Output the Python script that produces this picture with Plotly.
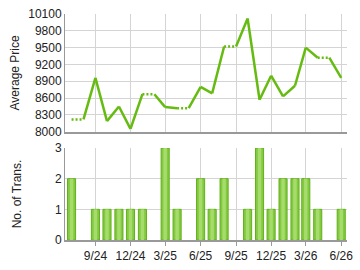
import plotly.graph_objects as go
from plotly.subplots import make_subplots

months = ["2024-07-01", "2024-08-01", "2024-09-01", "2024-10-01", "2024-11-01", "2024-12-01",
          "2025-01-01", "2025-02-01", "2025-03-01", "2025-04-01", "2025-05-01", "2025-06-01",
          "2025-07-01", "2025-08-01", "2025-09-01", "2025-10-01", "2025-11-01", "2025-12-01",
          "2026-01-01", "2026-02-01", "2026-03-01", "2026-04-01", "2026-05-01", "2026-06-01"]
avg_price = [8220, None, 8960, 8190, 8450, 8050,
             8670, None, 8440, 8420, None, 8800,
             8685, 9520, None, 10020, 8570, 9000,
             8630, 8820, 9500, 9320, None, 8960]
transactions = [2, 0, 1, 1, 1, 1,
                1, 0, 3, 1, 0, 2,
                1, 2, 0, 1, 3, 1,
                2, 2, 2, 1, 0, 1]
tick_vals = ["2024-09-01", "2024-12-01", "2025-03-01", "2025-06-01",
             "2025-09-01", "2025-12-01", "2026-03-01", "2026-06-01"]
tick_text = ["9/24", "12/24", "3/25", "6/25", "9/25", "12/25", "3/26", "6/26"]
price_ticks = [8000, 8300, 8600, 8900, 9200, 9500, 9800, 10100]
count_ticks = [0, 1, 2, 3]

# carry forward value for months with no transactions (drawn dotted)
filled = []
last = None
for v in avg_price:
    if v is not None:
        last = v
    filled.append(last)

solid_x, solid_y, dot_x, dot_y = [], [], [], []
for i in range(len(months) - 1):
    if avg_price[i + 1] is None:
        dot_x += [months[i], months[i + 1], None]
        dot_y += [filled[i], filled[i + 1], None]
    else:
        solid_x += [months[i], months[i + 1], None]
        solid_y += [filled[i], filled[i + 1], None]

bar_x = [m for m, c in zip(months, transactions) if c > 0]
bar_y = [c for c in transactions if c > 0]

LINE = "#66BB11"
DAY = 86400000
fig = make_subplots(rows=2, cols=1, shared_xaxes=True)
fig.add_trace(go.Scatter(x=solid_x, y=solid_y, mode="lines",
                         line=dict(color=LINE, width=2.5), connectgaps=False,
                         hoverinfo="skip"), row=1, col=1)
fig.add_trace(go.Scatter(x=dot_x, y=dot_y, mode="lines",
                         line=dict(color=LINE, width=2.5, dash="2px,2px"), connectgaps=False,
                         hoverinfo="skip"), row=1, col=1)
fig.add_trace(go.Bar(x=bar_x, y=bar_y, width=21 * DAY,
                     marker=dict(color="#84C942", line=dict(color="#62B01A", width=1))),
              row=2, col=1)
fig.add_trace(go.Bar(x=bar_x, y=bar_y, width=9 * DAY,
                     marker=dict(color="#A6DC6C", line=dict(width=0))),
              row=2, col=1)

xrange = ["2024-06-14", "2026-06-16"]
grid = "#D4D4D4"
axis_font = dict(family="Liberation Sans, Arial, sans-serif", size=12, color="#222")
fig.update_xaxes(range=xrange, tickvals=tick_vals, ticktext=tick_text, showgrid=True,
                 gridcolor=grid, gridwidth=1, showline=True, linecolor="#999", linewidth=2,
                 zeroline=False, tickfont=axis_font)
fig.update_xaxes(showticklabels=False, ticks="", row=1, col=1)
fig.update_xaxes(ticks="outside", ticklen=4, tickcolor="#999", row=2, col=1)
fig.update_yaxes(range=[8000, 10100], tickvals=price_ticks,
                 ticktext=[str(t) for t in price_ticks], showgrid=True, gridcolor=grid,
                 showline=True, linecolor="#999", linewidth=1, zeroline=False,
                 tickfont=axis_font, title=dict(text="Average Price", font=axis_font, standoff=6),
                 row=1, col=1)
fig.update_yaxes(range=[0, 3], tickvals=count_ticks, showgrid=True, gridcolor=grid,
                 showline=True, linecolor="#999", linewidth=1, zeroline=False,
                 tickfont=axis_font, title=dict(text="No. of Trans.", font=axis_font, standoff=30),
                 row=2, col=1)
fig.update_layout(
    width=360, height=270, margin=dict(l=65, r=7, t=7, b=27),
    paper_bgcolor="white", plot_bgcolor="white", showlegend=False,
    font=axis_font, barmode="overlay",
    yaxis=dict(domain=[0.479, 1.0]),
    yaxis2=dict(domain=[0.0, 0.407]),
)
fig.write_html("out.html")
